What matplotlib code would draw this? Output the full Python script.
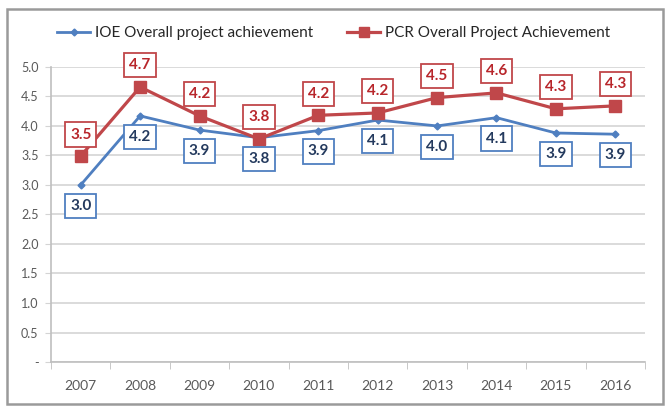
import matplotlib.pyplot as plt
from matplotlib.patches import Rectangle
from matplotlib.lines import Line2D

plt.rcParams['font.family'] = ['Lato', 'DejaVu Sans']

years = ['2007', '2008', '2009', '2010', '2011', '2012', '2013', '2014', '2015', '2016']
ioe = [3.0, 4.17, 3.93, 3.80, 3.92, 4.10, 4.00, 4.14, 3.88, 3.86]
pcr = [3.49, 4.66, 4.17, 3.78, 4.18, 4.22, 4.48, 4.56, 4.29, 4.34]
ioe_label = 'IOE Overall project achievement'
pcr_label = 'PCR Overall Project Achievement'

blue = '#4F7FC0'
red = '#C0474A'
grid_col = '#D4D4D4'
tick_col = '#595959'

fig = plt.figure(figsize=(6.67, 4.08), dpi=100)
ax = fig.add_axes([0.0765, 0.1127, 0.8905, 0.7233])

x = list(range(len(years)))
ax.plot(x, ioe, color=blue, lw=2, marker='D', ms=3.5, zorder=3)
ax.plot(x, pcr, color=red, lw=2.3, marker='s', ms=8, zorder=4)

# value boxes: PCR above the points, IOE below
for xi, v in zip(x, pcr):
    ax.annotate(f'{v:.1f}', (xi, v), xytext=(0, 15.5), textcoords='offset points',
                ha='center', va='center', fontsize=11, fontweight='bold', color='#B8262B',
                bbox=dict(boxstyle='square,pad=0.33', fc='white', ec=red, lw=1.3), zorder=5)
for xi, v in zip(x, ioe):
    ax.annotate(f'{v:.1f}', (xi, v), xytext=(0, -15), textcoords='offset points',
                ha='center', va='center', fontsize=11, fontweight='bold', color='#243A5E',
                bbox=dict(boxstyle='square,pad=0.33', fc='white', ec=blue, lw=1.3), zorder=5)

ax.set_xlim(-0.5, len(years) - 0.5)
ax.set_ylim(0, 5)
yt = [i * 0.5 for i in range(11)]
ax.set_yticks(yt)
ax.set_yticklabels(['-'] + [f'{v:.1f}' for v in yt[1:]])
ax.yaxis.grid(True, color=grid_col, lw=1.2)
ax.set_axisbelow(True)

ax.set_xticks(x)
ax.set_xticklabels(years)
ax.set_xticks([i - 0.5 for i in range(len(years) + 1)], minor=True)
ax.tick_params(axis='x', which='major', length=0, pad=13, labelsize=10, labelcolor=tick_col)
ax.tick_params(axis='x', which='minor', length=5, color='#BFBFBF', direction='out')
ax.tick_params(axis='y', length=4, color=grid_col, labelsize=9, labelcolor=tick_col, pad=5)

for s in ['top', 'right']:
    ax.spines[s].set_visible(False)
for s in ['left', 'bottom']:
    ax.spines[s].set_color('#BFBFBF')
    ax.spines[s].set_linewidth(1.2)

handles = [Line2D([], [], color=blue, lw=2, marker='D', ms=3.5),
           Line2D([], [], color=red, lw=2.3, marker='s', ms=7)]
fig.legend(handles, [ioe_label, pcr_label], loc='center', bbox_to_anchor=(0.5, 0.918),
           ncol=2, frameon=False, fontsize=11, handlelength=2.2, handletextpad=0.3,
           columnspacing=2.2, labelcolor='#262626')

# chart frame
fig.patches.append(Rectangle((7 / 667, 4 / 408), 656 / 667, 395 / 408, transform=fig.transFigure,
                             fill=False, ec='#9A9A9A', lw=1.8))

fig.savefig('out.png', dpi=100)
